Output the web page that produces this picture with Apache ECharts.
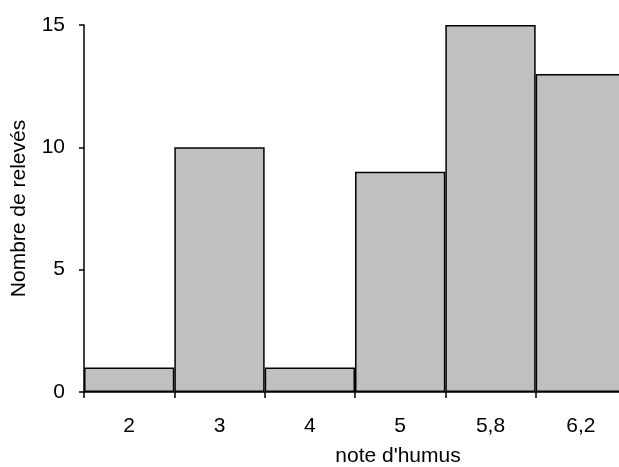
<!DOCTYPE html>
<html><head><meta charset="utf-8">
<script src="https://cdn.jsdelivr.net/npm/echarts@6/dist/echarts.min.js"></script>
<style>html,body{margin:0;padding:0;background:#fff}#c{width:619px;height:467px}</style>
</head><body><div id="c"></div>
<script>
const categories = ["2", "3", "4", "5", "5,8", "6,2"];
const counts = [1, 10, 1, 9, 15, 13];
const yTicks = [0, 5, 10, 15];

const chart = echarts.init(document.getElementById('c'), null, {renderer: 'canvas'});
const font = 'Liberation Sans, Arial, sans-serif';
const fs = 21;
chart.setOption({
  animation: false,
  backgroundColor: '#ffffff',
  grid: {left: 84, top: 25, width: 542, height: 367, containLabel: false, outerBoundsMode: 'none'},
  xAxis: {
    type: 'category', data: categories, boundaryGap: true,
    name: "note d'humus", nameLocation: 'middle', nameGap: 54,
    nameTextStyle: {fontFamily: font, fontSize: fs, color: '#000', padding: [0, 0, 0, 86]},
    axisLine: {lineStyle: {color: '#000', width: 1.5}},
    axisTick: {show: true, length: 6, lineStyle: {color: '#000', width: 1.5}, alignWithLabel: false},
    axisLabel: {fontFamily: font, fontSize: fs, color: '#000', margin: 24},
    splitLine: {show: false}
  },
  yAxis: {
    type: 'value', min: yTicks[0], max: yTicks[yTicks.length - 1], interval: 5,
    name: 'Nombre de relevés', nameLocation: 'middle', nameGap: 54,
    nameTextStyle: {fontFamily: font, fontSize: fs, color: '#000'},
    axisLine: {show: true, lineStyle: {color: '#000', width: 1.5}},
    axisTick: {show: true, length: 5, lineStyle: {color: '#000', width: 1.5}},
    axisLabel: {fontFamily: font, fontSize: fs, color: '#000', margin: 19},
    splitLine: {show: false}
  },
  series: [{
    type: 'bar', data: counts, barCategoryGap: '0%',
    itemStyle: {color: '#c0c0c0', borderColor: '#000', borderWidth: 1.5}
  }]
});
</script></body></html>
